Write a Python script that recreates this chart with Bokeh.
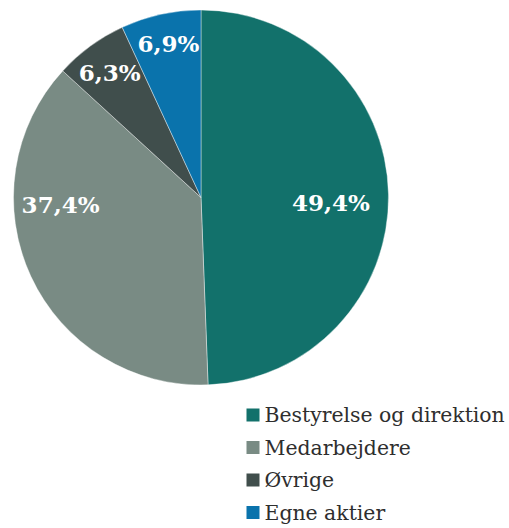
import math
from bokeh.plotting import figure
from bokeh.models import Range1d, ColumnDataSource
from bokeh.core.properties import value
from bokeh.embed import file_html
from bokeh.resources import INLINE

# ---- data ----
categories = ["Bestyrelse og direktion", "Medarbejdere", "Øvrige", "Egne aktier"]
shares = [49.4, 37.4, 6.3, 6.9]
labels = ["49,4%", "37,4%", "6,3%", "6,9%"]
colors = ["#12716b", "#798b84", "#404e4c", "#0a73ac"]

# ---- style / layout ----
W, H = 509, 528
CX, CY, R = 200.5, 331.0, 187.5
label_r = [0.694, 0.75, 0.826, 0.84]
label_angle_shift = [3.3, 21.9, 0.0, 0.5]  # degrees, clockwise
LEG_X, LEG_Y0, LEG_STEP = 252.5, 113.5, 32.5

p = figure(width=W, height=H, x_range=Range1d(0, W), y_range=Range1d(0, H),
           output_backend="svg", toolbar_location=None, min_border=0)
p.axis.visible = False
p.grid.visible = False
p.outline_line_color = None
p.background_fill_color = "white"
p.border_fill_color = "white"

total = sum(shares)
starts, ends, lx, ly = [], [], [], []
cum = 0.0
for i, s in enumerate(shares):
    a0 = cum / total * 2 * math.pi
    cum += s
    a1 = cum / total * 2 * math.pi
    starts.append(math.pi / 2 - a0)
    ends.append(math.pi / 2 - a1)
    mid = (a0 + a1) / 2 + math.radians(label_angle_shift[i])
    ang = math.pi / 2 - mid
    lx.append(CX + label_r[i] * R * math.cos(ang))
    ly.append(CY + label_r[i] * R * math.sin(ang))

src = ColumnDataSource(dict(start=starts, end=ends, color=colors, lx=lx, ly=ly,
                            label=labels))
p.wedge(x=CX, y=CY, radius=R, start_angle="start", end_angle="end",
        direction="clock", fill_color="color", line_color="white",
        line_width=0.4, source=src)
p.text(x="lx", y="ly", text="label", source=src, text_color="white",
       text_font=value("DejaVu Serif"), text_font_style="bold",
       text_font_size="23px", text_align="center", text_baseline="middle")

leg_y = [LEG_Y0 - i * LEG_STEP for i in range(len(categories))]
leg_src = ColumnDataSource(dict(x=[LEG_X] * len(categories), y=leg_y,
                                color=colors, name=categories,
                                tx=[LEG_X + 11.5] * len(categories)))
p.scatter(x="x", y="y", marker="square", size=13, fill_color="color",
          line_color=None, source=leg_src)
p.text(x="tx", y="y", text="name", source=leg_src, text_color="#2e2e2e",
       text_font=value("DejaVu Serif"), text_font_size="20.4px",
       text_align="left", text_baseline="middle")

open("out.html", "w").write(file_html(p, INLINE))
